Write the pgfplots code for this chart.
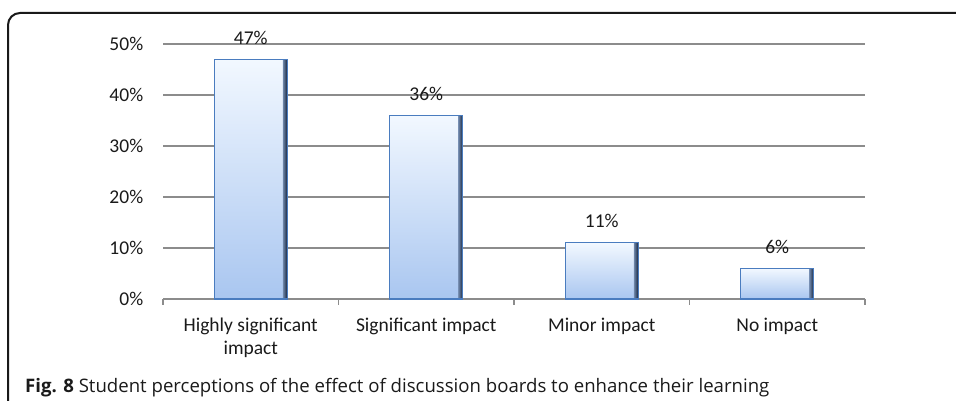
\documentclass[border=0pt]{standalone}
\usepackage{fontspec}
\setmainfont{Carlito}
\newfontfamily\capfont{Open Sans}
\usepackage{pgfplots}
\pgfplotsset{compat=1.18}
\definecolor{gridgray}{HTML}{8C8C8C}
\definecolor{bartop}{HTML}{F2F8FF}
\definecolor{barbot}{HTML}{A9C6F0}
\definecolor{barborder}{HTML}{4A7CBF}
\definecolor{bardark}{HTML}{1E2E48}
\definecolor{txt}{HTML}{1A1A1A}
\pgfplotsset{
  mainbar/.style={draw=none, bar width=73pt, bar shift=0pt, top color=bartop, bottom color=barbot,
    nodes near coords={\pgfmathprintnumber{\pgfplotspointmeta}\%},
    nodes near coords style={anchor=base, yshift=15pt, font=\fontsize{19.5}{23.5}\selectfont, text=txt}},
  edgebar/.style={draw=none, bar width=4pt, bar shift=34pt, left color=barbot!60!bardark, right color=bardark},
}
\begin{document}
\begin{tikzpicture}[x=1pt,y=1pt]
\useasboundingbox (0,0) rectangle (956,401);
\draw[line width=2pt, color=black!90, rounded corners=12pt] (8,-5) -- (8,388) -- (961,388);
\begin{axis}[
  at={(163pt,102pt)}, anchor=south west,
  scale only axis, width=702pt, height=255pt,
  xmin=-0.5, xmax=3.5, ymin=0, ymax=50,
  ybar,
  axis x line=bottom, axis y line=left, axis line style={-},
  y axis line style={draw=none},
  x axis line style={gridgray, line width=1.5pt},
  xtick={0,1,2,3},
  xticklabels={{Highly significant\\impact},{Significant impact},{Minor impact},{No impact}},
  major x tick style={draw=none},
  minor xtick={-0.5,0.5,1.5,2.5,3.5},
  minor x tick style={gridgray, line width=1.5pt},
  minor tick length=6pt, tick align=outside,
  ytick={0,10,20,30,40,50},
  yticklabels={0\%,10\%,20\%,30\%,40\%,50\%},
  ytick style={draw=none},
  ymajorgrids, grid style={gridgray, line width=2pt},
  tick label style={font=\fontsize{19.5}{23.5}\selectfont, text=txt},
  xticklabel style={align=center, yshift=-11pt},
  yticklabel style={xshift=-12pt},
  /pgf/number format/assume math mode=true,
  clip=false,
]
% main shaded bars, one path per bar so each has its own gradient
\addplot[mainbar] coordinates {(0,47)};
\addplot[mainbar] coordinates {(1,36)};
\addplot[mainbar] coordinates {(2,11)};
\addplot[mainbar] coordinates {(3,6)};
% right bevel shadow
\addplot[edgebar] coordinates {(0,47)};
\addplot[edgebar] coordinates {(1,36)};
\addplot[edgebar] coordinates {(2,11)};
\addplot[edgebar] coordinates {(3,6)};
% outline
\addplot[draw=barborder, fill=none, line width=1.2pt, bar width=73pt, bar shift=0pt]
  coordinates {(0,47) (1,36) (2,11) (3,6)};
\end{axis}
\node[anchor=base west, inner sep=0pt, text=txt, font=\capfont\fontsize{18.6}{22}\selectfont] at (25,8) {\textbf{Fig. 8} Student perceptions of the effect of discussion boards to enhance their learning};
\end{tikzpicture}
\end{document}
